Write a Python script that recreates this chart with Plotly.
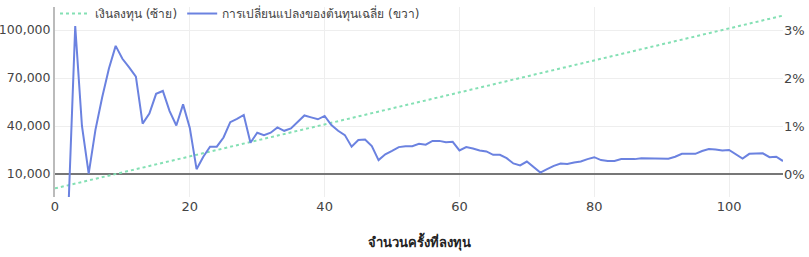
import plotly.graph_objects as go

periods = list(range(0, 109))

invested = [
    1000, 2000, 3000, 4000, 5000, 6000, 7000, 8000, 9000, 10000,
    11000, 12000, 13000, 14000, 15000, 16000, 17000, 18000, 19000, 20000,
    21000, 22000, 23000, 24000, 25000, 26000, 27000, 28000, 29000, 30000,
    31000, 32000, 33000, 34000, 35000, 36000, 37000, 38000, 39000, 40000,
    41000, 42000, 43000, 44000, 45000, 46000, 47000, 48000, 49000, 50000,
    51000, 52000, 53000, 54000, 55000, 56000, 57000, 58000, 59000, 60000,
    61000, 62000, 63000, 64000, 65000, 66000, 67000, 68000, 69000, 70000,
    71000, 72000, 73000, 74000, 75000, 76000, 77000, 78000, 79000, 80000,
    81000, 82000, 83000, 84000, 85000, 86000, 87000, 88000, 89000, 90000,
    91000, 92000, 93000, 94000, 95000, 96000, 97000, 98000, 99000, 100000,
    101000, 102000, 103000, 104000, 105000, 106000, 107000, 108000, 109000,
]

cost_change_pct = [
    None, -2.5, -0.7, 3.08, 1.0, 0.01, 0.92, 1.6, 2.2, 2.67,
    2.4, 2.22, 2.03, 1.05, 1.26, 1.67, 1.73, 1.31, 1.01, 1.45,
    0.96, 0.1, 0.36, 0.57, 0.57, 0.76, 1.08, 1.15, 1.23, 0.65,
    0.86, 0.81, 0.86, 0.97, 0.9, 0.95, 1.09, 1.22, 1.18, 1.14,
    1.21, 1.02, 0.9, 0.81, 0.57, 0.71, 0.72, 0.58, 0.29, 0.41,
    0.48, 0.56, 0.58, 0.58, 0.63, 0.61, 0.69, 0.69, 0.66, 0.67,
    0.49, 0.56, 0.53, 0.49, 0.47, 0.4, 0.4, 0.33, 0.22, 0.18,
    0.26, 0.15, 0.03, 0.1, 0.17, 0.22, 0.21, 0.24, 0.26, 0.31,
    0.35, 0.29, 0.27, 0.27, 0.31, 0.31, 0.31, 0.33, 0.33, 0.32,
    0.32, 0.32, 0.36, 0.42, 0.42, 0.42, 0.48, 0.52, 0.51, 0.49,
    0.5, 0.41, 0.32, 0.42, 0.42, 0.43, 0.35, 0.36, 0.27,
]

left_ticks = [10000, 40000, 70000, 100000]
left_ticktext = ["10,000", "40,000", "70,000", "100,000"]
right_ticks = [0, 1, 2, 3]
right_ticktext = ["0%", "1%", "2%", "3%"]
x_ticks = [0, 20, 40, 60, 80, 100]

name_invest = "เงินลงทุน (ซ้าย)"
name_cost = "การเปลี่ยนแปลงของต้นทุนเฉลี่ย (ขวา)"
x_title = "จำนวนครั้งที่ลงทุน"

font_family = "DejaVu Sans, Noto Sans, sans-serif"

fig = go.Figure()
fig.add_trace(go.Scatter(
    x=periods, y=invested, name=name_invest, mode="lines",
    line=dict(color="#84e0b4", width=2, dash="dot"), yaxis="y",
))
fig.add_trace(go.Scatter(
    x=periods, y=cost_change_pct, name=name_cost, mode="lines",
    line=dict(color="#6b82e0", width=2), yaxis="y2", connectgaps=False,
))

# white band behind the legend that hides the gridlines (as in the reference)
fig.add_shape(
    type="rect", xref="paper", yref="paper", x0=0.004, x1=0.495, y0=0.905, y1=1.0,
    fillcolor="white", line=dict(width=0), layer="between",
)

fig.update_layout(
    width=809, height=257,
    margin=dict(l=55, r=26, t=7, b=60, autoexpand=False),
    paper_bgcolor="white", plot_bgcolor="white",
    font=dict(family=font_family, size=13, color="#444"),
    showlegend=True,
    legend=dict(
        orientation="h", x=0, y=1.042, xanchor="left", yanchor="top",
        bgcolor="rgba(0,0,0,0)", font=dict(size=12, color="#444"),
        itemwidth=30, tracegroupgap=0,
    ),
    xaxis=dict(
        range=[0, 108], tickvals=x_ticks, showgrid=True, gridcolor="#eeeeee",
        zeroline=False, showline=False, ticks="", automargin=False,
        title=dict(text="<b>" + x_title + "</b>", font=dict(size=13, color="#222"), standoff=24),
    ),
    yaxis=dict(
        range=[-4375, 114375], tickvals=left_ticks, ticktext=left_ticktext,
        tickfont=dict(size=12.5),
        showgrid=True, gridcolor="#eeeeee", zeroline=False, automargin=False,
        showline=True, linecolor="#bbbbbb", linewidth=2, ticks="",
    ),
    yaxis2=dict(
        range=[-0.479, 3.479], tickvals=right_ticks, ticktext=right_ticktext,
        overlaying="y", side="right", showgrid=False, automargin=False,
        zeroline=True, zerolinecolor="#777777", zerolinewidth=1.5,
        showline=False, ticks="",
    ),
)

fig.write_html("out.html")
